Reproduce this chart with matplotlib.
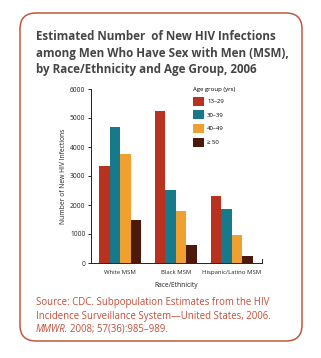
import numpy as np
import matplotlib
matplotlib.use("Agg")
import matplotlib.pyplot as plt
from matplotlib.patches import FancyBboxPatch

plt.rcParams['font.family'] = ['Open Sans', 'DejaVu Sans']

groups = ["White MSM", "Black MSM", "Hispanic/Latino MSM"]
ages = ["13\u201329", "30\u201339", "40\u201349", "\u2265 50"]
v_13_29 = [3340, 5240, 2310]
v_30_39 = [4680, 2520, 1860]
v_40_49 = [3760, 1790, 970]
v_50 = [1480, 620, 240]
colors = ["#b8321f", "#167a8b", "#f0a031", "#4d190b"]
yticks = [0, 1000, 2000, 3000, 4000, 5000, 6000]
title_lines = ["Estimated Number  of New HIV Infections",
               "among Men Who Have Sex with Men (MSM),",
               "by Race/Ethnicity and Age Group, 2006"]

W, H = 321, 358
fig = plt.figure(figsize=(W / 100, H / 100), dpi=100)
fig.patch.set_facecolor("white")

# background layer in pixel coords for the rounded frame and text
bg = fig.add_axes([0, 0, 1, 1])
bg.set_xlim(0, W)
bg.set_ylim(H, 0)
bg.axis("off")
frame = FancyBboxPatch((28, 21), 266, 312, boxstyle="round,pad=8,rounding_size=16",
                       fc="white", ec="#c0573f", lw=1.1)
bg.add_patch(frame)

for i, line in enumerate(title_lines):
    bg.text(36, 37 + i * 16.3, line, fontsize=8.4, fontweight="bold",
            color="#454545", va="center", ha="left")

src = dict(fontsize=6.9, color="#c0503a", va="center")
bg.text(36, 303, "Source: CDC. Subpopulation Estimates from the HIV", **src)
bg.text(36, 316, "Incidence Surveillance System\u2014United States, 2006.", **src)
bg.text(36, 329, "MMWR.", style="italic", **src)
bg.text(70, 329, "2008; 57(36):985\u2013989.", **src)

ax = fig.add_axes([91 / W, 1 - 263 / H, 171 / W, 174 / H])
x = np.arange(len(groups))
bw = 0.187
series = [v_13_29, v_30_39, v_40_49, v_50]
for i, vals in enumerate(series):
    ax.bar(x + (i - 1.5) * bw, vals, width=bw, color=colors[i], label=ages[i])

ax.set_xlim(-0.52, 2.54)
ax.set_ylim(0, 6000)
ax.set_yticks(yticks)
ax.set_yticklabels([str(t) for t in yticks], fontsize=4.8, color="#222222")
ax.set_xticks(x)
ax.set_xticklabels(groups, fontsize=4.3, color="#222222")
ax.tick_params(axis="x", length=0, pad=5)
ax.tick_params(axis="y", length=2.5, width=0.6, pad=1.5)
for s in ["top", "right"]:
    ax.spines[s].set_visible(False)
for s in ["left", "bottom"]:
    ax.spines[s].set_linewidth(0.7)
    ax.spines[s].set_color("#222222")
ax.plot([1, 1], [0, 0.025], transform=ax.transAxes, color="#222222", lw=0.7, clip_on=False)
ax.set_ylabel("Number of New HIV Infections", fontsize=4.9, color="#222222", labelpad=2)
ax.set_xlabel("Race/Ethnicity", fontsize=4.8, color="#222222", labelpad=5)

leg = ax.legend(loc="upper left", bbox_to_anchor=(0.585, 1.025), frameon=False,
                fontsize=4.3, title="Age group (yrs)", title_fontsize=4.3,
                handlelength=1.7, handleheight=2.0, labelspacing=0.75,
                handletextpad=0.6, borderaxespad=0)
leg._legend_box.align = "left"

fig.savefig("out.png", dpi=100, facecolor="white")
